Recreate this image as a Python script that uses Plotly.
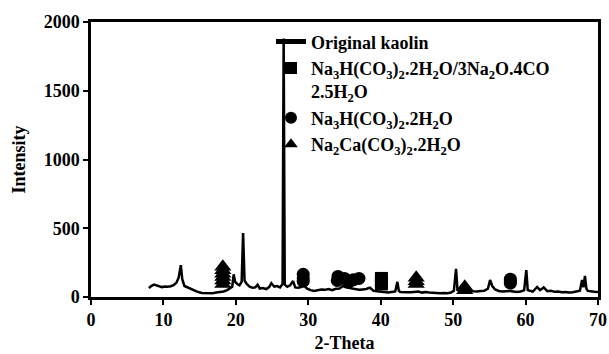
import plotly.graph_objects as go

# XRD pattern of original kaolin (2-Theta, Intensity)
theta = [8.0, 8.3, 8.7, 9.0, 9.4, 9.8, 10.2, 10.6, 11.0, 11.4, 11.8, 12.1, 12.4, 12.6, 12.9,
         13.3, 13.8, 14.3, 14.8, 15.3, 15.8, 16.3, 16.8, 17.3, 17.8, 18.3, 18.8, 19.2, 19.5,
         19.7, 19.9, 20.2, 20.5, 20.8, 21.0, 21.2, 21.5, 21.9, 22.3, 22.7, 23.0, 23.3, 23.7,
         24.2, 24.6, 24.9, 25.3, 25.7, 26.1, 26.45, 26.6, 26.75, 27.1, 27.5, 27.9, 28.2, 28.6,
         29.0, 29.4, 29.8, 30.3, 30.8, 31.3, 31.8, 32.3, 32.8, 33.3, 33.8, 34.3, 34.8, 35.2,
         35.6, 36.0, 36.5, 37.0, 37.5, 38.0, 38.5, 39.0, 39.5, 40.0, 40.5, 41.0, 41.5, 42.0,
         42.3, 42.5, 42.7, 43.2, 43.7, 44.2, 44.7, 45.2, 45.7, 46.2, 46.7, 47.2, 47.7, 48.2,
         48.7, 49.2, 49.7, 50.1, 50.4, 50.6, 50.9, 51.3, 51.8, 52.3, 52.8, 53.3, 53.8, 54.3,
         54.8, 55.1, 55.4, 55.8, 56.3, 56.8, 57.3, 57.8, 58.3, 58.8, 59.3, 59.8, 60.1, 60.3,
         60.6, 61.0, 61.6, 62.0, 62.5, 63.0, 63.5, 64.0, 64.5, 65.0, 65.5, 66.0, 66.5, 67.0,
         67.5, 67.8, 68.0, 68.2, 68.4, 68.6, 69.0, 69.5, 70.0]
intensity = [65, 80, 90, 85, 75, 72, 76, 74, 78, 86, 105, 140, 232, 130, 80,
             70, 58, 45, 36, 30, 28, 30, 28, 32, 35, 40, 50, 62, 75,
             165, 110, 95, 85, 110, 465, 120, 95, 75, 68, 70, 90, 62, 66,
             58, 72, 100, 75, 80, 70, 95, 1880, 90, 75, 85, 116, 70, 68,
             72, 85, 62, 50, 44, 48, 55, 52, 58, 50, 60, 62, 80, 70,
             65, 60, 55, 52, 55, 58, 68, 45, 42, 38, 35, 32, 36, 40,
             110, 45, 36, 33, 35, 34, 38, 40, 32, 36, 33, 30, 32, 28,
             30, 28, 32, 45, 204, 50, 45, 40, 44, 46, 42, 40, 44, 46,
             60, 124, 80, 55, 44, 40, 42, 44, 40, 36, 40, 48, 196, 50,
             45, 40, 73, 50, 70, 42, 45, 38, 40, 35, 36, 32, 34, 38,
             45, 124, 70, 153, 60, 44, 40, 38, 36]

# Phase markers (peak positions and marker stack heights)
sq_theta = [40.1, 40.1, 40.1]
sq_int = [95, 115, 135]
circ_theta = [29.3, 29.3, 29.3, 34.0, 34.1, 35.0, 35.6, 36.2, 37.0, 57.9, 57.9, 57.9]
circ_int = [115, 140, 165, 120, 150, 135, 110, 125, 135, 100, 115, 130]
tri_theta = [18.2, 18.2, 18.2, 18.2, 18.2, 18.2, 44.9, 44.9, 44.9, 51.6, 51.6]
tri_int = [95, 120, 145, 170, 195, 220, 95, 115, 140, 50, 75]

names = ["Original kaolin",
         "Na<sub>3</sub>H(CO<sub>3</sub>)<sub>2</sub>.2H<sub>2</sub>O/3Na<sub>2</sub>O.4CO<br>2.5H<sub>2</sub>O",
         "Na<sub>3</sub>H(CO<sub>3</sub>)<sub>2</sub>.2H<sub>2</sub>O",
         "Na<sub>2</sub>Ca(CO<sub>3</sub>)<sub>2</sub>.2H<sub>2</sub>O"]

font_family = "Liberation Serif"

fig = go.Figure()
fig.add_trace(go.Scatter(x=theta, y=intensity, mode="lines", name=names[0],
                         line=dict(color="black", width=2.5)))
fig.add_trace(go.Scatter(x=sq_theta, y=sq_int, mode="markers", name=names[1],
                         marker=dict(symbol="square", size=13, color="black")))
fig.add_trace(go.Scatter(x=circ_theta, y=circ_int, mode="markers", name=names[2],
                         marker=dict(symbol="circle", size=13, color="black")))
fig.add_trace(go.Scatter(x=tri_theta, y=tri_int, mode="markers", name=names[3],
                         marker=dict(symbol="triangle-up", size=15, color="black")))

axis_common = dict(showline=True, linecolor="black", linewidth=2.5, mirror=True,
                   ticks="outside", ticklen=5, tickwidth=2, tickcolor="black",
                   showgrid=False, zeroline=False, automargin=False,
                   tickfont=dict(family=font_family, size=18, color="black", weight="bold"),
                   title_font=dict(family=font_family, size=18, color="black", weight="bold"))

fig.update_xaxes(range=[0, 70], dtick=10, title_text="2-Theta", title_standoff=8,
                 **axis_common)
fig.update_yaxes(range=[0, 2000], dtick=500, title_text="Intensity", title_standoff=14,
                 **axis_common)

fig.update_layout(
    width=609, height=354,
    margin=dict(l=91, r=11, t=22, b=57),
    plot_bgcolor="white", paper_bgcolor="white",
    font=dict(family=font_family, size=18, color="black"),
    showlegend=True,
    legend=dict(x=0.355, y=0.995, xanchor="left", yanchor="top", valign="top",
                bgcolor="rgba(0,0,0,0)", borderwidth=0, itemsizing="constant",
                font=dict(family=font_family, size=18, color="black", weight="bold"),
                itemwidth=30, tracegroupgap=0),
)

fig.write_html("out.html", config={"displayModeBar": False},
               post_script="document.body.style.margin='0';document.body.style.padding='0';")
